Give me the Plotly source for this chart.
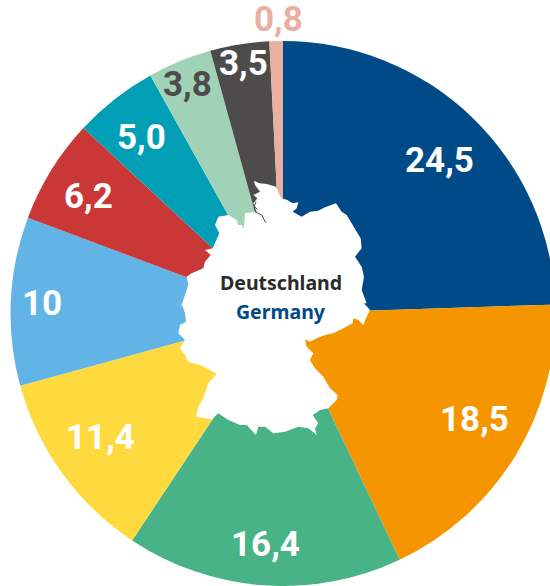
import plotly.graph_objects as go

values = [24.5, 18.5, 16.4, 11.4, 10, 6.2, 5.0, 3.8, 3.5, 0.8]
labels = ["24,5", "18,5", "16,4", "11,4", "10", "6,2", "5,0", "3,8", "3,5", "0,8"]
colors = ["#004b87", "#f59600", "#47b386", "#ffda3f", "#62b4e6",
          "#c93737", "#009fb5", "#a0d2b7", "#4d4c4a", "#e9b0a2"]
label_colors = ["white"] * 7 + ["#4d4c4a", "white", "#e9b0a2"]
label_x = [439, 474, 265, 100, 42, 88, 141, 188, 243, 278]
label_y = [160, 419, 544, 437, 303, 196, 137, 84, 64, 20]
title_de = "Deutschland"
title_en = "Germany"

W, H = 566, 586

# Silhouette: zoom coordinates (3x) of two crops
top = [(252,32),(268,40),(290,42),(318,50),(328,72),(335,85),(352,90),(368,100),(385,97),(380,115),
       (368,125),(395,140),(420,125),(445,122),(465,112),(498,100),(515,125),(530,135),(548,165),
       (560,185),(572,205),(575,235),(555,260),(575,290),(582,320),(575,360),(590,400)]
bottom = [(582,10),(600,30),(590,50),(580,75),(565,60),(550,55),(548,70),(520,85),(490,100),(465,105),
          (440,115),(420,125),(405,118),(410,140),(430,160),(420,180),(435,205),(460,230),(480,265),
          (503,285),(500,300),(475,325),(450,330),(428,345),(445,370),(435,385),(440,405),(415,385),
          (385,380),(345,395),(310,400),(285,380),(265,380),(258,405),(230,375),(210,375),(175,360),
          (145,340),(125,358),(105,355),(78,350),(85,320),(100,295),(115,250),(140,222),(120,210),
          (90,195),(55,185),(45,165),(30,145),(45,120),(25,100),(30,75),(48,65),(45,40),(35,10)]
top_left = [(30,420),(45,375),(55,345),(50,320),(65,310),(100,295),(105,275),(122,255),(105,240),
            (128,235),(148,190),(135,165),(145,140),(175,135),(200,150),(205,165),(215,165),(222,175),
            (225,130),(260,125),(250,100),(262,85),(250,75),(270,65),(255,45)]
outline = [(170+x/3, 170+y/3) for x, y in top] \
        + [(170+x/3, 300+y/3) for x, y in bottom] \
        + [(170+x/3, 170+y/3) for x, y in top_left]
river = [(170+x/3, 170+y/3) for x, y in [(255,125),(275,135),(287,158)]]
river2 = [(170+x/3, 170+y/3) for x, y in [(248,88),(258,98),(252,108),(262,118)]]

def path(points, close=True):
    s = "M" + " L".join(f"{x/W:.5f},{1-y/H:.5f}" for x, y in points)
    return s + (" Z" if close else "")

fig = go.Figure(go.Pie(
    values=values,
    marker=dict(colors=colors, line=dict(width=0)),
    sort=False,
    direction="clockwise",
    rotation=0,
    textinfo="none",
    hoverinfo="skip",
    showlegend=False,
    domain=dict(x=[0, 1], y=[0, 545/H]),
))

fig.add_shape(type="path", xref="paper", yref="paper", path=path(outline),
              fillcolor="white", line=dict(width=0), layer="above")
for r in (river, river2):
    fig.add_shape(type="path", xref="paper", yref="paper", path=path(r, False),
                  line=dict(color="#4d4c4a", width=1), layer="above")

for t, x, y, c in zip(labels, label_x, label_y, label_colors):
    fig.add_annotation(text=f"<b>{t}</b>", x=x/W, y=1-y/H, xref="paper", yref="paper",
                       showarrow=False, xanchor="center", yanchor="middle",
                       font=dict(family="Roboto", size=35, color=c))
fig.add_annotation(text=f"<b>{title_de}</b>", x=281/W, y=1-282/H, xref="paper", yref="paper",
                   showarrow=False, font=dict(family="Noto Sans", size=19.5, color="#2b2b2b"))
fig.add_annotation(text=f"<b>{title_en}</b>", x=281/W, y=1-311/H, xref="paper", yref="paper",
                   showarrow=False, font=dict(family="Noto Sans", size=19.5, color="#004b87"))

fig.update_layout(width=W, height=H, margin=dict(l=0, r=0, t=0, b=0),
                  paper_bgcolor="white", plot_bgcolor="white")

fig.write_html("out.html", config={"displayModeBar": False},
               post_script="document.documentElement.style.overflow='hidden';document.body.style.margin='0';document.body.style.overflow='hidden';")
